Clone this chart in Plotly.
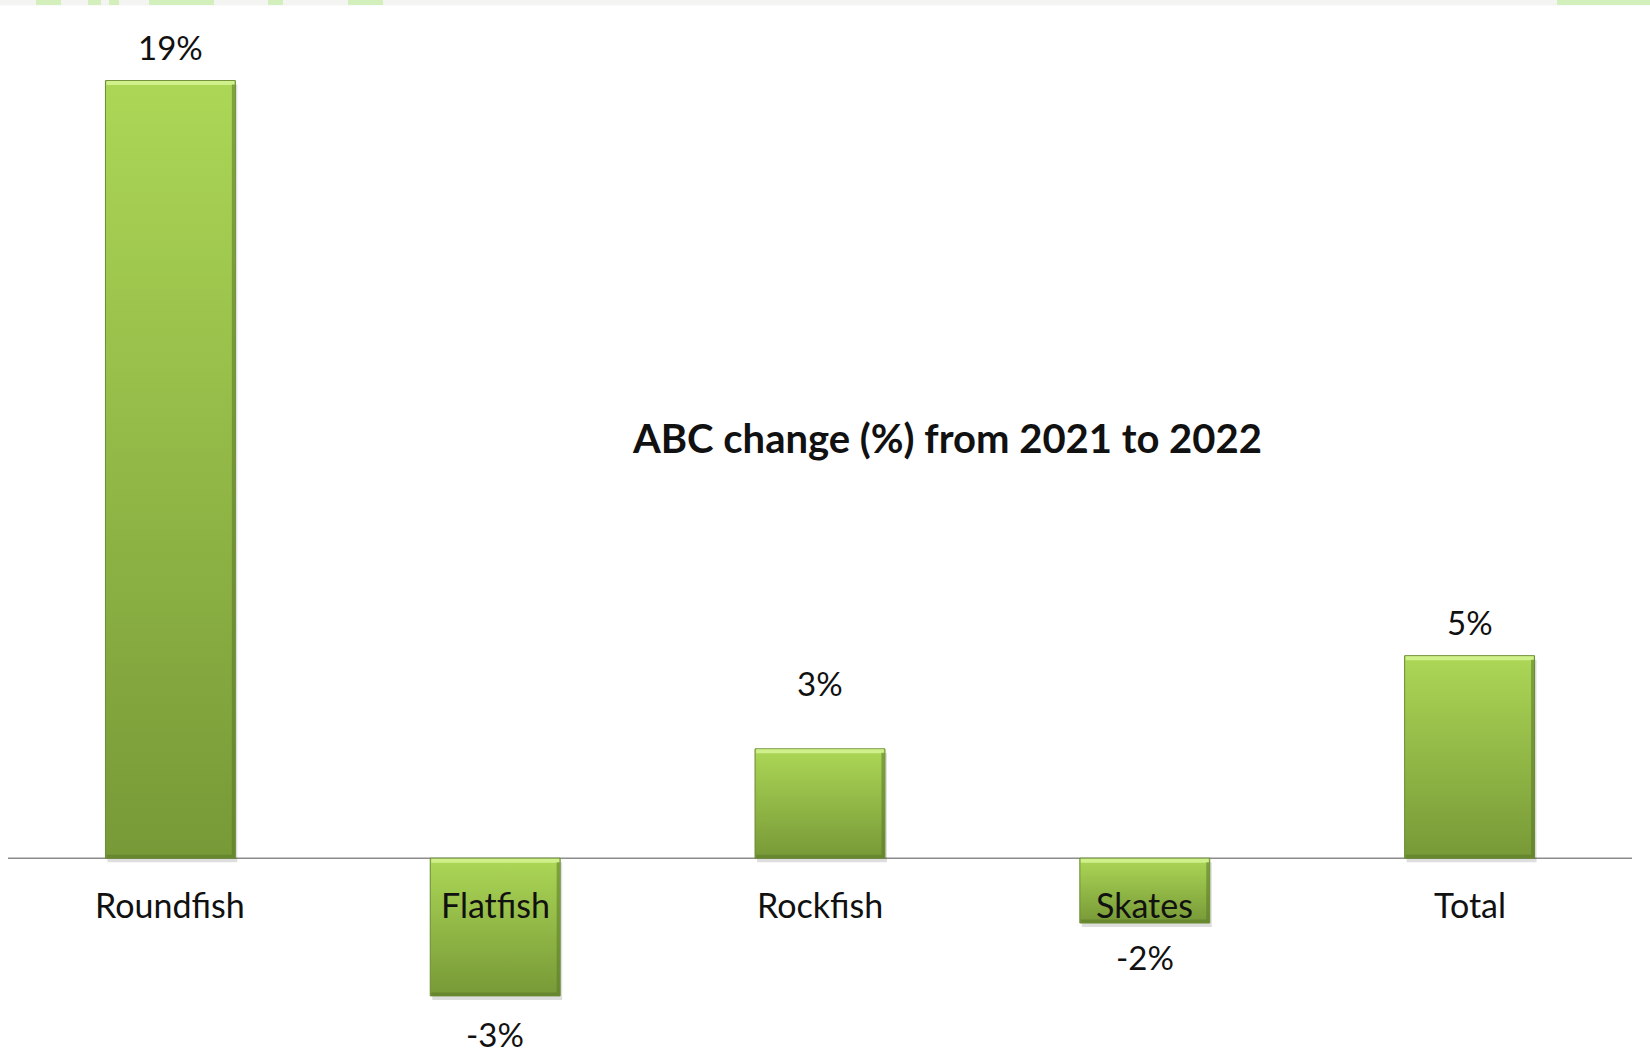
import plotly.graph_objects as go

# ---- data ----
categories = ["Roundfish", "Flatfish", "Rockfish", "Skates", "Total"]
abc_change = [19.2, -3.4, 2.7, -1.6, 5.0]
value_labels = ["19%", "-3%", "3%", "-2%", "5%"]
chart_title = "ABC change (%) from 2021 to 2022"

# ---- style ----
label_shift = [34, -38, 66, -34, 34]   # pixel offset of value labels from bar end
BAR_WIDTH = 0.40
FONT = "Lato, 'Open Sans', sans-serif"
LIGHT = "#acd756"
DARK = "#779937"
EDGE = "#6a8a30"
W, H = 1650, 1053
ML, MR, MT, MB = 8, 18, 0, 0
Y_RANGE = [-4.81, 21.19]
X_RANGE = [-0.5, 4.5]

px_per_y = (H - MT - MB) / (Y_RANGE[1] - Y_RANGE[0])
px_per_x = (W - ML - MR) / (X_RANGE[1] - X_RANGE[0])
sdx, sdy = 2 / px_per_x, 4 / px_per_y

fig = go.Figure()

# shadows
for i, v in enumerate(abc_change):
    x0, x1 = i - BAR_WIDTH / 2 + sdx, i + BAR_WIDTH / 2 + sdx
    y0, y1 = min(0, v) - sdy, max(0, v) - sdy
    fig.add_trace(go.Scatter(
        x=[x0, x1, x1, x0, x0], y=[y0, y0, y1, y1, y0],
        fill="toself", mode="lines", line=dict(width=0),
        fillcolor="rgba(0,0,0,0.13)", hoverinfo="skip", showlegend=False))

# bars
for i, v in enumerate(abc_change):
    x0, x1 = i - BAR_WIDTH / 2, i + BAR_WIDTH / 2
    fig.add_trace(go.Scatter(
        x=[x0, x1, x1, x0, x0], y=[0, 0, v, v, 0],
        fill="toself", mode="lines", line=dict(color=EDGE, width=1),
        fillgradient=dict(type="vertical", colorscale=[[0, DARK], [1, LIGHT]]),
        name=categories[i], hoverinfo="x+y", showlegend=False))
    top, bot = max(0, v), min(0, v)
    # top highlight bevel
    fig.add_trace(go.Scatter(
        x=[x0 + 1 / px_per_x, x1 - 1 / px_per_x], y=[top - 2.5 / px_per_y, top - 2.5 / px_per_y],
        mode="lines", line=dict(color="#cff08a", width=4),
        hoverinfo="skip", showlegend=False))
    # right / bottom darker bevel
    fig.add_trace(go.Scatter(
        x=[x1 - 2 / px_per_x, x1 - 2 / px_per_x, x0 + 1 / px_per_x],
        y=[top - 4 / px_per_y, bot + 2 / px_per_y, bot + 2 / px_per_y],
        mode="lines", line=dict(color="rgba(90,120,40,0.55)", width=3),
        hoverinfo="skip", showlegend=False))

annotations = []
for i, (v, lab, sh) in enumerate(zip(abc_change, value_labels, label_shift)):
    annotations.append(dict(x=i, y=v, xref="x", yref="y", text=lab, showarrow=False,
                            yshift=sh, yanchor="middle",
                            font=dict(family=FONT, size=33, color="#111111")))
for i, cat in enumerate(categories):
    annotations.append(dict(x=i, y=0, xref="x", yref="y", text=cat, showarrow=False,
                            yshift=-46, yanchor="middle",
                            font=dict(family=FONT, size=34, color="#111111")))
annotations.append(dict(x=(947 - ML) / (W - ML - MR), y=1 - 438 / H, xref="paper", yref="paper",
                        text="<b>" + chart_title + "</b>", showarrow=False,
                        xanchor="center", yanchor="middle",
                        font=dict(family=FONT, size=40, color="#111111")))

# decorative top strip
PW = W - ML - MR
def px2paper(x):
    return (x - ML) / PW

shapes = [
    dict(type="line", xref="paper", yref="y", x0=0, x1=1, y0=0, y1=0,
         line=dict(color="#8c8c8c", width=1.5), layer="below"),
    dict(type="rect", xref="paper", yref="paper", x0=px2paper(0), x1=px2paper(W),
         y0=1 - 5.5 / H, y1=1, fillcolor="#f4f5f3", line=dict(width=0), layer="below"),
]
for a, b in [(36, 61), (88, 101), (109, 119), (149, 214), (268, 283), (348, 383), (1557, 1650)]:
    shapes.append(dict(type="rect", xref="paper", yref="paper", x0=px2paper(a), x1=px2paper(b),
                       y0=1 - 5 / H, y1=1, fillcolor="#d3efbc", line=dict(width=0), layer="below"))

fig.update_layout(
    width=W, height=H,
    margin=dict(l=ML, r=MR, t=MT, b=MB),
    paper_bgcolor="white", plot_bgcolor="white",
    xaxis=dict(range=X_RANGE, visible=False, fixedrange=True),
    yaxis=dict(range=Y_RANGE, visible=False, fixedrange=True),
    annotations=annotations,
    shapes=shapes,
    showlegend=False,
)

fig.write_html("out.html", config={"displayModeBar": False},
               post_script="document.body.style.margin='0';document.body.style.overflow='hidden';")
